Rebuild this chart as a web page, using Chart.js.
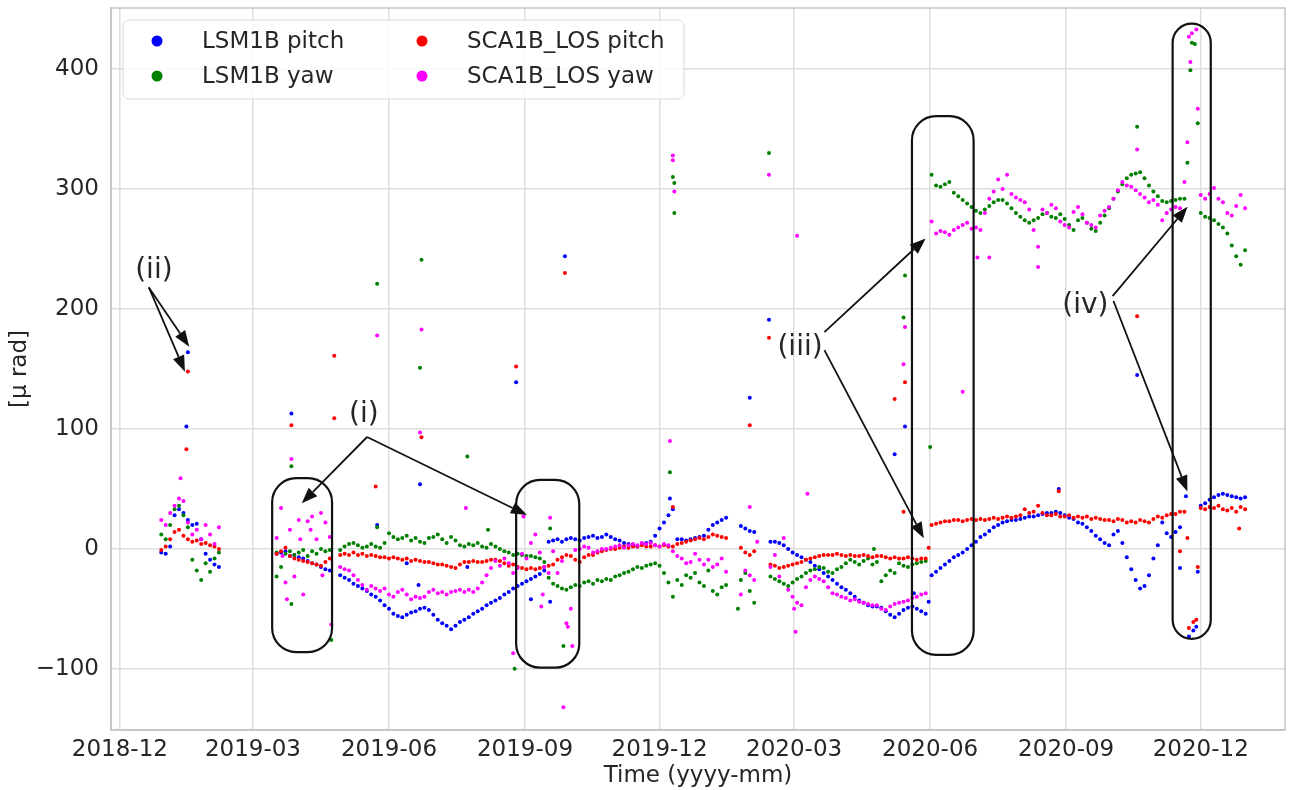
<!DOCTYPE html>
<html>
<head>
<meta charset="utf-8">
<script src="https://cdn.jsdelivr.net/npm/chart.js@4.4.1/dist/chart.umd.min.js"></script>
<style>
  html, body { margin: 0; padding: 0; background: #fff; }
  #wrap { width: 1296px; height: 790px; position: relative; }
</style>
</head>
<body>
<div id="wrap"><canvas id="chart"></canvas></div>
<script>
// --- Data (x = days since 2018-12-01) ---
const tickDays = [0, 90, 182, 274, 365, 456, 548, 640, 731];
const tickLabels = ['2018-12', '2019-03', '2019-06', '2019-09', '2019-12', '2020-03', '2020-06', '2020-09', '2020-12'];
const yTicks = [-100, 0, 100, 200, 300, 400];

// samples every STEP days, each run starting at runStarts[i]
const STEP = 3;
const runStarts = [28, 106, 149, 420, 440, 549, 731];

const lsmPitchRuns = [
  [-3, -4, 2, 28, 33, 30, 24, 20, 21, 8, -4, -9, -13, -15],
  [-4, -3, -2, -6, -5, -7, -8, -10, -12, -13, -15, -17, -18],
  [-22, -24, -26, -29, -31, -33, -35, -38, -40, -43,
   -47, -50, -54, -56, -57, -55, -53, -52, -50, -49,
   -51, -55, -59, -62, -64, -67, -64, -61, -59, -57,
   -54, -52, -50, -47, -45, -43, -41, -38, -36, -33,
   -31, -29, -27, -25, -23, -21, -18, 6, 7, 8,
   6, 8, 9, 8, 7, 9, 10, 11, 9, 10,
   12, 10, 8, 7, 5, 4, 3, 2, 4, 5,
   6, 11, 17, 22, 28, 33, 8, 8, 7, 8,
   9, 10, 11, 16, 20, 22, 24, 26],
  [19, 17, 15, 14],
  [6, 6, 5, 3, 0, -3, -5, -7, -9, -11,
   -14, -17, -20, -23, -26, -29, -32, -34, -37, -40,
   -43, -45, -47, -48, -48, -49, -52, -55, -57, -54,
   -51, -49, -48, -50, -52, -54],
  [-22, -19, -16, -13, -10, -7, -5, -3, 0, 3,
   6, 10, 12, 15, 18, 20, 22, 23, 24, 24,
   25, 26, 27, 27, 28, 29, 30, 30, 31, 30,
   28, 26, 25, 22, 21, 18, 15, 11, 8, 5,
   3, 12, 15, 5, -7, -17, -26, -33, -31, -22,
   -8, 3, 22, 13, 10, 14, 18, null],
  [36, 38, 41, 43, 45, 46, 45, 44, 43, 42, 43]
];
const lsmPitchExtra = [[46, 164], [45, 102], [116, 113], [174, 20], [194, -12], [202, -30], [203, 54], [235, -15],
  [268, 139], [278, -42], [291, -44], [301, 244], [372, 42], [426, 126], [439, 191], [524, 79], [531, 102],
  [537, -37], [547, -44], [635, 50], [688, 145], [717, -16], [721, 44], [723, -73], [726, -68], [728, -65], [729, -19]];

const lsmYawRuns = [
  [12, 8, 20, 33, 36, 28, 18, -9, -18, -26, -12, -19, -8, -3],
  [-3, -15, -4, -2, -5, -3, -1, -6, -2, -4, 0, -2, -1],
  [-1, 2, 4, 5, 3, 1, 2, 4, 2, 1,
   5, 13, 10, 8, 9, 11, 7, 9, 6, 5,
   9, 10, 12, 8, 5, 10, 7, 3, 2, 4,
   3, 5, 2, 1, 4, 2, 0, -2, -3, -5,
   -4, -5, -6, -6, -7, -8, -11, -24, -29, -31,
   -33, -34, -32, -30, -31, -28, -27, -29, -26, -27,
   -25, -26, -23, -22, -20, -19, -17, -15, -16, -14,
   -13, -12, -14, -20, -28, -40, -26, -30, -22, -24,
   -20, -28, -31, -18, -35, -38, -32, -30],
  [-26, -20, -35, -45],
  [-23, -25, -27, -29, -31, -28, -25, -23, -20, -18,
   -17, -15, -16, -19, -20, -17, -15, -12, -9, -11,
   -13, -10, -8, -13, -11, -27, -22, -18, -20, -12,
   -14, -15, -13, -12, -11, -10],
  [312, 303, 302, 304, 306, 297, 294, 291, 288, 285,
   282, 280, 283, 286, 289, 291, 291, 288, 284, 280,
   277, 274, 272, 274, 276, 279, 280, 277, 276, 279,
   275, 270, 266, 274, 276, 272, 267, 265, 272, 278,
   284, 292, 298, 304, 309, 312, 313, 314, 309, 303,
   298, 294, 290, 289, 290, 291, 292, 292],
  [280, 277, 276, 274, 271, 268, 263, 253, 244, 237, 249]
];
const lsmYawExtra = [[116, 69], [106, -23], [116, -46], [143, -76], [174, 221], [174, 18], [204, 241], [203, 151],
  [235, 77], [249, 16], [267, -100], [291, 17], [300, -81], [372, 64], [374, 310], [375, 305], [375, 280],
  [418, -50], [439, 330], [510, 0], [530, 193], [531, 228], [548, 85], [688, 352], [722, 322], [724, 399],
  [725, 422], [727, 421], [729, 355]];

const scaPitchRuns = [
  [-1, 2, 8, 14, 16, 11, 8, 6, 7, 4, 5, 3, 2, 0],
  [-4, -2, 1, -6, -8, -9, -10, -11, -12, -13, -14, -11, -8],
  [-5, -4, -5, -3, -5, -4, -6, -5, -6, -7,
   -7, -8, -7, -8, -9, -8, -10, -9, -10, -11,
   -11, -12, -13, -13, -14, -15, -16, -13, -11, -11,
   -10, -11, -11, -10, -9, -9, -10, -12, -14, -13,
   -15, -16, -17, -16, -17, -16, -15, -14, -13, -9,
   -7, -5, -6, -9, -11, -7, -5, -5, -3, -2,
   -1, 0, 0, 1, 2, 1, 2, 2, 3, 2,
   2, 3, 2, 3, 2, 2, 4, 5, 6, 7,
   8, 9, 8, 10, 12, 11, 10, 9],
  [1, -3, -5, -2],
  [-13, -14, -16, -15, -14, -13, -12, -11, -9, -8,
   -7, -6, -5, -5, -5, -4, -5, -6, -5, -6,
   -6, -5, -6, -7, -6, -6, -7, -8, -7, -8,
   -8, -7, -8, -9, -8, -8],
  [20, 21, 22, 23, 23, 24, 24, 23, 24, 25,
   24, 25, 24, 25, 26, 25, 26, 27, 26, 27,
   28, 33, 30, 31, 36, 30, 28, 28, 29, 27,
   27, 28, 26, 27, 26, 27, 25, 26, 25, 24,
   24, 23, 25, 24, 22, 23, 22, 24, 23, 22,
   25, 27, 26, 28, 29, 29, 31, 31],
  [34, 33, 35, 34, 36, 33, 32, 34, 31, 35, 33]
];
const scaPitchExtra = [[46, 148], [45, 83], [116, 103], [145, 161], [145, 109], [173, 52], [204, 93], [268, 152],
  [301, 230], [374, 35], [426, 103], [439, 176], [524, 125], [531, 139], [530, 31], [547, 1], [635, 48],
  [688, 194], [717, -2], [722, 9], [723, -66], [726, -61], [728, -59], [729, -15], [757, 17]];

const scaYawRuns = [
  [24, 20, 30, 36, 42, 40, 22, 12, 16, 8, 20, 12, 4, 18],
  [9, 34, -28, 16, -23, 24, -38, 23, 27, 8, 30, 22, 10],
  [-15, -17, -18, -22, -26, -30, -34, -31, -33, -35,
   -33, -38, -40, -36, -34, -38, -42, -40, -41, -40,
   -36, -34, -37, -36, -38, -36, -35, -34, -36, -34,
   -36, -33, -28, -22, -16, -10, -14, -8, -12, -20,
   -16, -4, -8, 5, 12, -3, -15, -20, -2, -20,
   -10, -62, -50, -1, 0, 2, 1, -3, -2, 0,
   0, 1, 2, 3, 1, 3, 4, 3, 5, 4,
   5, 3, 2, 4, 3, -2, -6, -8, -12, -11,
   -4, -9, -13, -9, -15, -13, -8, -19],
  [-38, -18, -22, -26],
  [-15, -5, -23, 9, -34, -40, -45, -47, -32, -26,
   -23, -25, -27, -32, -37, -38, -40, -41, -43, -42,
   -44, -45, -46, -47, -47, -50, -51, -48, -46, -45,
   -44, -43, -41, -40, -38, -37],
  [273, 263, 265, 264, 262, 266, 268, 270, 272, 267,
   268, 266, 280, 292, 298, 308, 300, 312, 296, 293,
   291, 289, 283, 266, 252, 283, 280, 287, 284, 273,
   270, 268, 281, 285, 279, 272, 270, 268, 278, 282,
   285, 292, 299, 306, 303, 302, 299, 296, 293, 289,
   291, 287, 274, 280, 283, 285, 284, null],
  [295, 292, 296, 301, 292, 289, 280, 278, 286, 295, 284]
];
const scaYawExtra = [[41, 59], [116, 75], [110, -6], [113, -42], [122, 8], [129, 16], [137, -22], [143, -63],
  [174, 178], [204, 183], [203, 97], [234, 34], [273, 27], [291, 26], [266, -87], [300, -132], [285, -48],
  [286, -38], [303, -65], [306, -81], [372, 90], [374, 328], [374, 324], [375, 298], [426, 35], [431, 6],
  [439, 312], [458, 261], [465, 46], [456, -50], [457, -69], [530, 154], [531, 185], [570, 131],
  [580, 243], [588, 243], [621, 235], [688, 333], [720, 306], [722, 339], [723, 427], [724, 406],
  [725, 430], [728, 433], [729, 367]];

// --- Annotation layout (data coordinates) ---
const boxes = [
  { x0: 103, x1: 143.5, y0: 59, y1: -86 },
  { x0: 268, x1: 310.7, y0: 57.5, y1: -99 },
  { x0: 535.7, x1: 577.4, y0: 360.8, y1: -88.3 },
  { x0: 712, x1: 737.8, y0: 438, y1: -75 }
];
const notes = [
  { text: '(ii)', x: 23, y: 232, arrows: [[19.6, 218, 46.9, 168.6], [19.6, 218, 44, 147.8]] },
  { text: '(i)', x: 165, y: 112, arrows: [[167.2, 93.3, 123, 38], [167.2, 93.3, 275.3, 28.3]] },
  { text: '(iii)', x: 460, y: 168, arrows: [[476.5, 180.8, 544.9, 258.9], [476.5, 165.8, 543.7, 8.9]] },
  { text: '(iv)', x: 653, y: 203, arrows: [[671.4, 210.8, 722.1, 285.3], [672, 206.7, 722, 47.8]] }
];

const FONT = '"DejaVu Sans", "Liberation Sans", sans-serif';
const ink = '#262626';

// --- Helpers ---
function buildPoints(runs, extra) {
  const pts = [];
  runs.forEach((vals, r) => vals.forEach((v, i) => {
    if (v !== null) pts.push({ x: runStarts[r] + STEP * i, y: v });
  }));
  extra.forEach(([x, y]) => pts.push({ x, y }));
  return pts;
}

const series = [
  { label: 'LSM1B pitch', color: '#0000ff', pts: buildPoints(lsmPitchRuns, lsmPitchExtra), order: 3 },
  { label: 'LSM1B yaw', color: '#008000', pts: buildPoints(lsmYawRuns, lsmYawExtra), order: 2 },
  { label: 'SCA1B_LOS pitch', color: '#ff0000', pts: buildPoints(scaPitchRuns, scaPitchExtra), order: 1 },
  { label: 'SCA1B_LOS yaw', color: '#ff00ff', pts: buildPoints(scaYawRuns, scaYawExtra), order: 0 }
];

// --- Plugins: frame, annotations, legend ---
const framePlugin = {
  id: 'frame',
  beforeDatasetsDraw(chart) {
    const { ctx, chartArea: a } = chart;
    ctx.save();
    ctx.strokeStyle = '#c4c4c4';
    ctx.lineWidth = 1.5;
    ctx.strokeRect(a.left, a.top, a.right - a.left, a.bottom - a.top);
    ctx.restore();
  }
};

function roundRect(ctx, x, y, w, h, r) {
  ctx.beginPath();
  ctx.moveTo(x + r, y);
  ctx.arcTo(x + w, y, x + w, y + h, r);
  ctx.arcTo(x + w, y + h, x, y + h, r);
  ctx.arcTo(x, y + h, x, y, r);
  ctx.arcTo(x, y, x + w, y, r);
  ctx.closePath();
}

function arrow(ctx, x0, y0, x1, y1) {
  const ang = Math.atan2(y1 - y0, x1 - x0);
  const len = 16, half = 6;
  const bx = x1 - len * Math.cos(ang), by = y1 - len * Math.sin(ang);
  ctx.beginPath();
  ctx.moveTo(x0, y0);
  ctx.lineTo(bx, by);
  ctx.stroke();
  ctx.beginPath();
  ctx.moveTo(x1, y1);
  ctx.lineTo(bx + half * Math.sin(ang), by - half * Math.cos(ang));
  ctx.lineTo(bx - half * Math.sin(ang), by + half * Math.cos(ang));
  ctx.closePath();
  ctx.fill();
}

const notesPlugin = {
  id: 'notes',
  afterDatasetsDraw(chart) {
    const { ctx, scales: { x, y } } = chart;
    ctx.save();
    ctx.strokeStyle = '#111';
    ctx.fillStyle = '#111';
    ctx.lineWidth = 2.2;
    boxes.forEach(b => {
      const px0 = x.getPixelForValue(b.x0), px1 = x.getPixelForValue(b.x1);
      const py0 = y.getPixelForValue(b.y0), py1 = y.getPixelForValue(b.y1);
      const w = px1 - px0, h = py1 - py0;
      roundRect(ctx, px0, py0, w, h, Math.min(24, w / 2));
      ctx.stroke();
    });
    ctx.lineWidth = 1.8;
    notes.forEach(n => {
      n.arrows.forEach(a => arrow(ctx, x.getPixelForValue(a[0]), y.getPixelForValue(a[1]),
        x.getPixelForValue(a[2]), y.getPixelForValue(a[3])));
      ctx.font = '28px ' + FONT;
      ctx.textAlign = 'center';
      ctx.textBaseline = 'middle';
      ctx.fillStyle = ink;
      ctx.fillText(n.text, x.getPixelForValue(n.x), y.getPixelForValue(n.y));
      ctx.fillStyle = '#111';
    });
    ctx.restore();
  }
};

const legendPlugin = {
  id: 'boxLegend',
  afterDatasetsDraw(chart) {
    const { ctx, chartArea: a } = chart;
    const bx = a.left + 12, by = a.top + 12, bw = 561, bh = 79;
    ctx.save();
    roundRect(ctx, bx, by, bw, bh, 6);
    ctx.fillStyle = 'rgba(255,255,255,0.85)';
    ctx.fill();
    ctx.strokeStyle = '#d8d8d8';
    ctx.lineWidth = 1;
    ctx.stroke();
    ctx.font = '23px ' + FONT;
    ctx.textBaseline = 'middle';
    ctx.textAlign = 'left';
    series.forEach((s, i) => {
      const col = Math.floor(i / 2), row = i % 2;
      const mx = bx + 34 + col * 265, my = by + 21 + row * 35;
      ctx.fillStyle = s.color;
      ctx.beginPath();
      ctx.arc(mx, my, 5.5, 0, Math.PI * 2);
      ctx.fill();
      ctx.fillStyle = ink;
      ctx.fillText(s.label, mx + 45, my + 1);
    });
    ctx.restore();
  }
};

// drop the room Chart.js keeps for half tick labels at the ends
const noEndPad = s => { s.paddingTop = 0; s.paddingBottom = 0; s.paddingLeft = 0; s.paddingRight = 0; };

// --- Chart ---
new Chart(document.getElementById('chart'), {
  type: 'scatter',
  data: {
    datasets: series.map(s => ({
      label: s.label,
      data: s.pts,
      backgroundColor: s.color,
      borderColor: s.color,
      pointRadius: 2,
      pointBorderWidth: 0,
      order: s.order
    }))
  },
  options: {
    responsive: true,
    maintainAspectRatio: false,
    animation: false,
    layout: { padding: { left: 0, right: 11, top: 8, bottom: 0 } },
    plugins: { legend: { display: false }, tooltip: { enabled: false } },
    scales: {
      x: {
        type: 'linear',
        min: -6,
        max: 788,
        afterBuildTicks: s => { s.ticks = tickDays.map(v => ({ value: v })); },
        afterFit: s => { s.height = 60; noEndPad(s); },
        ticks: {
          callback: (v, i) => tickLabels[i],
          autoSkip: false,
          maxRotation: 0,
          padding: 6,
          color: ink,
          font: { family: FONT, size: 23 }
        },
        grid: { color: '#dedede', lineWidth: 1.5, drawTicks: false },
        border: { color: '#c4c4c4', width: 1.5 },
        title: {
          display: true,
          text: 'Time (yyyy-mm)',
          color: ink,
          font: { family: FONT, size: 23 },
          padding: { top: 0, bottom: 0 }
        }
      },
      y: {
        min: -151,
        max: 451,
        afterBuildTicks: s => { s.ticks = yTicks.map(v => ({ value: v })); },
        afterFit: s => { s.width = 111; noEndPad(s); },
        ticks: {
          callback: v => (v < 0 ? '\u2212' + Math.abs(v) : String(v)),
          padding: 12,
          color: ink,
          font: { family: FONT, size: 23 }
        },
        grid: { color: '#dedede', lineWidth: 1.5, drawTicks: false },
        border: { color: '#c4c4c4', width: 1.5 },
        title: {
          display: true,
          text: '[\u03bc rad]',
          color: ink,
          font: { family: FONT, size: 23 },
          padding: { top: 6, bottom: 4 }
        }
      }
    }
  },
  plugins: [framePlugin, notesPlugin, legendPlugin]
});
</script>
</body>
</html>
